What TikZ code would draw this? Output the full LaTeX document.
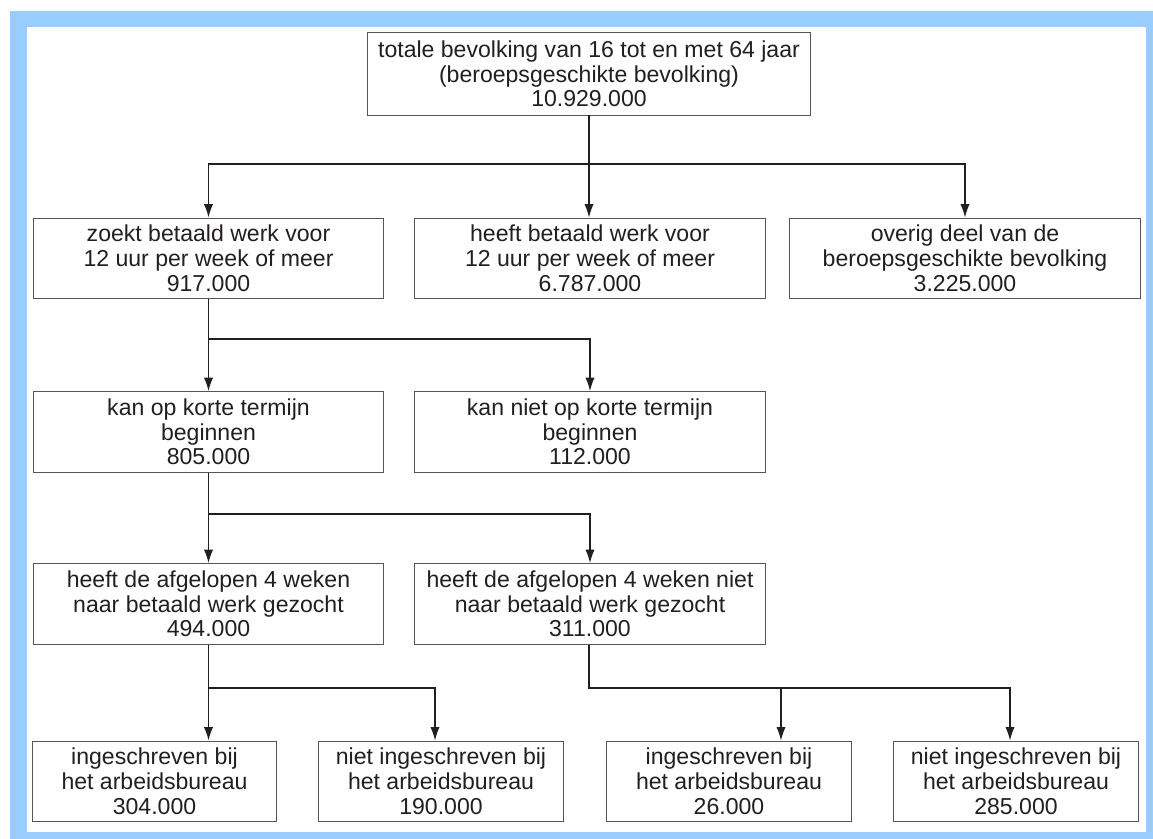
\documentclass[tikz,border=0pt]{standalone}
\usepackage{fontspec}
\setmainfont{Liberation Sans}
\usetikzlibrary{arrows.meta,calc,positioning}
\definecolor{FrameBlue}{RGB}{153,204,255}
\definecolor{InkGray}{RGB}{35,31,32}
\definecolor{EdgeGray}{RGB}{85,85,85}

\begin{document}
\begin{tikzpicture}[x=0.025cm,y=-0.025cm,>={Latex[length=9.5pt,width=6.5pt]},
  box/.style={draw=EdgeGray,line width=0.7pt,align=center,inner sep=0pt,minimum height=2.02cm,text=InkGray,font=\fontsize{16.4}{17.6}\selectfont},
  wide/.style={box,minimum width=8.75cm},
  narrow/.style={box,minimum width=6.1cm},
  link/.style={draw=InkGray,line width=1pt}]
\useasboundingbox (0,0) rectangle (1153,839);
\fill[FrameBlue] (10,11) rectangle (1153,839);
\fill[white] (27,27) rectangle (1146,832);
% boxes
\node[box,minimum width=11.05cm,minimum height=2.05cm] (tot) at (589,74) {totale bevolking van 16 tot en met 64 jaar\\(beroepsgeschikte bevolking)\\10.929.000};
\node[wide] (zoekt) at (208.5,258.5) {zoekt betaald werk voor\\12 uur per week of meer\\917.000};
\node[wide] (heeft) at (590,258.5) {heeft betaald werk voor\\12 uur per week of meer\\6.787.000};
\node[wide] (overig) at (965,258.5) {overig deel van de\\beroepsgeschikte bevolking\\3.225.000};
\node[wide] (kan) at (208.5,432) {kan op korte termijn\\beginnen\\805.000};
\node[wide] (kanniet) at (590,432) {kan niet op korte termijn\\beginnen\\112.000};
\node[wide] (gezocht) at (208.5,604) {heeft de afgelopen 4 weken\\naar betaald werk gezocht\\494.000};
\node[wide] (nietgezocht) at (590,604) {heeft de afgelopen 4 weken niet\\naar betaald werk gezocht\\311.000};
\node[narrow] (ingeA) at (154.5,781.5) {ingeschreven bij\\het arbeidsbureau\\304.000};
\node[narrow] (nietA) at (441,781.5) {niet ingeschreven bij\\het arbeidsbureau\\190.000};
\node[narrow] (ingeB) at (729,781.5) {ingeschreven bij\\het arbeidsbureau\\26.000};
\node[narrow] (nietB) at (1016,781.5) {niet ingeschreven bij\\het arbeidsbureau\\285.000};
% connectors
\coordinate (j1) at (589,164);
\draw[link] (tot) -- (j1);
\draw[link,->] (j1) -| (zoekt);
\draw[link,->] (j1) -- (j1 |- heeft.north);
\draw[link,->] (j1) -| (overig);
\coordinate (j2) at (208.5,339);
\draw[link] (zoekt) -- (j2);
\draw[link,->] (j2) -- (kan);
\draw[link,->] (j2) -| (kanniet);
\coordinate (j3) at (208.5,514);
\draw[link] (kan) -- (j3);
\draw[link,->] (j3) -- (gezocht);
\draw[link,->] (j3) -| (nietgezocht);
\coordinate (j4) at (208.5,688);
\coordinate (t4) at (435,688);
\draw[link] (gezocht) -- (j4);
\draw[link,->] (j4) -- (j4 |- ingeA.north);
\draw[link,->] (j4) -- (t4) -- (t4 |- nietA.north);
\coordinate (j5) at (589,688);
\coordinate (t5a) at (781,688);
\coordinate (t5b) at (1010,688);
\draw[link] (j5 |- nietgezocht.south) -- (j5) -- (t5a);
\draw[link,->] (t5a) -- (t5b) -- (t5b |- nietB.north);
\draw[link,->] (t5a) -- (t5a |- ingeB.north);
\end{tikzpicture}
\end{document}
